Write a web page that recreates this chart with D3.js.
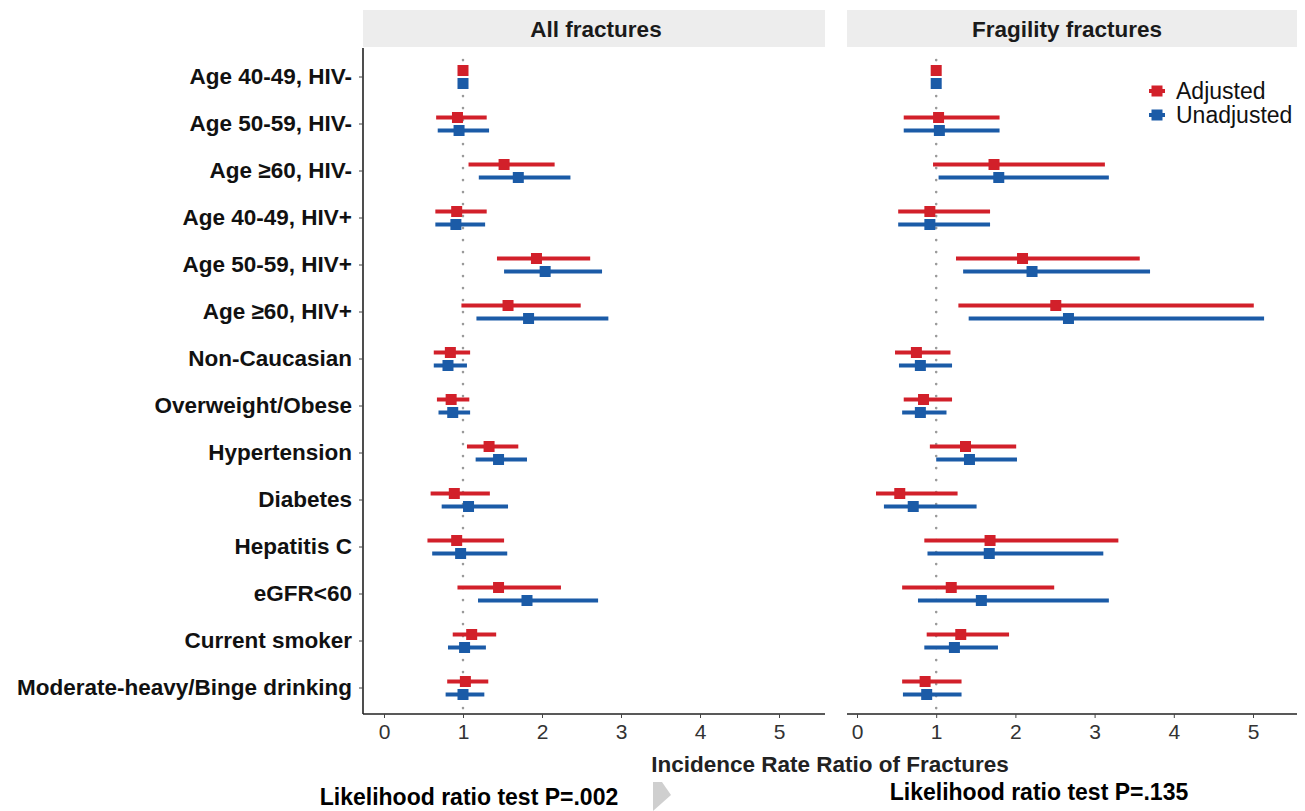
<!DOCTYPE html>
<html>
<head>
<meta charset="utf-8">
<script src="https://cdn.jsdelivr.net/npm/d3@7"></script>
<style>
  body { margin: 0; background: #fff; }
  svg text { font-family: Arial, "Liberation Sans", sans-serif; }
</style>
</head>
<body>
<svg id="forest" width="1305" height="811"></svg>
<script>
const categories = [
  "Age 40-49, HIV-", "Age 50-59, HIV-", "Age \u226560, HIV-",
  "Age 40-49, HIV+", "Age 50-59, HIV+", "Age \u226560, HIV+",
  "Non-Caucasian", "Overweight/Obese", "Hypertension", "Diabetes",
  "Hepatitis C", "eGFR<60", "Current smoker", "Moderate-heavy/Binge drinking"
];

// [estimate, lower, upper]
const allAdjusted = [
  [1.00, 1.00, 1.00], [0.93, 0.66, 1.30], [1.52, 1.07, 2.16], [0.92, 0.65, 1.30],
  [1.93, 1.43, 2.61], [1.57, 0.98, 2.49], [0.84, 0.63, 1.09], [0.85, 0.67, 1.08],
  [1.33, 1.05, 1.70], [0.89, 0.59, 1.34], [0.92, 0.55, 1.52], [1.45, 0.93, 2.24],
  [1.11, 0.87, 1.42], [1.03, 0.80, 1.32]
];
const allUnadjusted = [
  [1.00, 1.00, 1.00], [0.95, 0.68, 1.33], [1.70, 1.20, 2.36], [0.91, 0.65, 1.28],
  [2.04, 1.52, 2.76], [1.83, 1.17, 2.84], [0.81, 0.63, 1.05], [0.87, 0.69, 1.09],
  [1.45, 1.16, 1.81], [1.07, 0.73, 1.57], [0.97, 0.61, 1.56], [1.81, 1.19, 2.71],
  [1.02, 0.81, 1.29], [1.00, 0.78, 1.27]
];
const fragAdjusted = [
  [1.00, 1.00, 1.00], [1.03, 0.59, 1.80], [1.73, 0.96, 3.13], [0.92, 0.52, 1.68],
  [2.09, 1.25, 3.57], [2.51, 1.28, 5.01], [0.75, 0.48, 1.18], [0.84, 0.59, 1.20],
  [1.37, 0.92, 2.01], [0.54, 0.24, 1.27], [1.68, 0.85, 3.30], [1.19, 0.57, 2.49],
  [1.31, 0.88, 1.92], [0.86, 0.57, 1.32]
];
const fragUnadjusted = [
  [1.00, 1.00, 1.00], [1.04, 0.59, 1.80], [1.79, 1.03, 3.18], [0.92, 0.52, 1.68],
  [2.21, 1.34, 3.70], [2.67, 1.41, 5.14], [0.80, 0.53, 1.20], [0.80, 0.57, 1.13],
  [1.42, 1.00, 2.02], [0.71, 0.34, 1.51], [1.67, 0.89, 3.11], [1.57, 0.77, 3.18],
  [1.23, 0.85, 1.78], [0.88, 0.58, 1.32]
];

const xTicks = [0, 1, 2, 3, 4, 5];
const seriesNames = ["Adjusted", "Unadjusted"];
const panelTitles = ["All fractures", "Fragility fractures"];
const pValues = ["Likelihood ratio test P=.002", "Likelihood ratio test P=.135"];

const colors = { Adjusted: "#d2202a", Unadjusted: "#1b5ba7" };
const offset = { Adjusted: -6.5, Unadjusted: 6.5 };

const svg = d3.select("#forest");

const y = d3.scaleBand().domain(categories).range([53.5, 711.5]);
const axisY = 714;
const plotTop = 48;

const panels = [
  { title: panelTitles[0], x: d3.scaleLinear().domain([0, 5]).range([384, 779]),
    left: 363, right: 825, data: { Adjusted: allAdjusted, Unadjusted: allUnadjusted }, p: pValues[0], px: 469, py: 805 },
  { title: panelTitles[1], x: d3.scaleLinear().domain([0, 5]).range([857, 1253]),
    left: 847, right: 1297, data: { Adjusted: fragAdjusted, Unadjusted: fragUnadjusted }, p: pValues[1], px: 1039, py: 800 }
];

panels.forEach((p, i) => {
  const g = svg.append("g");

  // strip
  g.append("rect")
    .attr("x", p.left).attr("y", 10)
    .attr("width", p.right - p.left).attr("height", 37)
    .attr("fill", "#ededed");
  g.append("text")
    .attr("x", (p.left + p.right) / 2 + (i === 0 ? 2 : -5)).attr("y", 29)
    .attr("dy", "0.35em")
    .attr("text-anchor", "middle")
    .attr("font-size", 22.5).attr("font-weight", "bold").attr("fill", "#1a1a1a")
    .text(p.title);

  // reference line at 1
  g.append("line")
    .attr("x1", p.x(1)).attr("x2", p.x(1))
    .attr("y1", 60).attr("y2", axisY)
    .attr("stroke", "#9a9a9a").attr("stroke-width", 2.6)
    .attr("stroke-linecap", "round")
    .attr("stroke-dasharray", "0.1 11.9");

  // x axis
  const xAxis = d3.axisBottom(p.x).tickValues(xTicks).tickFormat(d3.format("d"))
    .tickSize(4).tickPadding(6);
  const ax = g.append("g")
    .attr("transform", `translate(0,${axisY})`)
    .call(xAxis);
  ax.select(".domain")
    .attr("d", `M${p.left},0H${p.right}`)
    .attr("stroke", "#222").attr("stroke-width", 1.6);
  ax.selectAll(".tick line").attr("stroke", "#444");
  ax.selectAll(".tick text")
    .attr("font-size", 21).attr("fill", "#333")
    .attr("font-family", "Arial, 'Liberation Sans', sans-serif");

  // series
  seriesNames.forEach(s => {
    const rows = p.data[s].map((d, k) => ({ cat: categories[k], est: d[0], lo: d[1], hi: d[2] }));
    const cy = d => y(d.cat) + y.bandwidth() / 2 + offset[s];
    g.selectAll(null).data(rows.filter(d => d.hi > d.lo)).join("line")
      .attr("x1", d => p.x(d.lo)).attr("x2", d => p.x(d.hi))
      .attr("y1", cy).attr("y2", cy)
      .attr("stroke", colors[s]).attr("stroke-width", 4);
    g.selectAll(null).data(rows).join("rect")
      .attr("x", d => p.x(d.est) - 5.5).attr("y", d => cy(d) - 5.5)
      .attr("width", 11).attr("height", 11)
      .attr("fill", colors[s]);
  });

  // p value note
  svg.append("text")
    .attr("x", p.px).attr("y", p.py)
    .attr("text-anchor", "middle")
    .attr("font-family", "Lato, 'Open Sans', sans-serif")
    .attr("font-size", 23).attr("font-weight", "bold").attr("fill", "#000")
    .text(p.p);
});

// y axis on left panel
const yAxis = d3.axisLeft(y).tickSize(4).tickPadding(7);
const ay = svg.append("g")
  .attr("transform", `translate(363,0)`)
  .call(yAxis);
ay.select(".domain")
  .attr("d", `M0,${plotTop}V${axisY}`)
  .attr("stroke", "#222").attr("stroke-width", 1.6);
ay.selectAll(".tick line").attr("stroke", "#444");
ay.selectAll(".tick text")
  .attr("font-size", 22.5).attr("font-weight", "bold").attr("fill", "#111")
  .attr("font-family", "Arial, 'Liberation Sans', sans-serif");

// x axis title
svg.append("text")
  .attr("x", 830).attr("y", 764).attr("dy", "0.35em")
  .attr("text-anchor", "middle")
  .attr("font-size", 22.5).attr("font-weight", "bold").attr("fill", "#222")
  .text("Incidence Rate Ratio of Fractures");

// legend
const legend = svg.append("g").attr("transform", "translate(1157,91)");
seriesNames.forEach((s, i) => {
  const lg = legend.append("g").attr("transform", `translate(0,${i * 24})`);
  lg.append("line").attr("x1", -8).attr("x2", 8).attr("y1", 0).attr("y2", 0)
    .attr("stroke", colors[s]).attr("stroke-width", 4);
  lg.append("rect").attr("x", -5.5).attr("y", -5.5).attr("width", 11).attr("height", 11)
    .attr("fill", colors[s]);
  lg.append("text").attr("x", 19).attr("y", 0).attr("dy", "0.35em")
    .attr("font-size", 23).attr("fill", "#111")
    .text(s);
});

// grey mark below the axis title
svg.append("path")
  .attr("d", "M653,782 L662,782 L671,795 L653,811 Z")
  .attr("fill", "#cfcfcf");
</script>
</body>
</html>
